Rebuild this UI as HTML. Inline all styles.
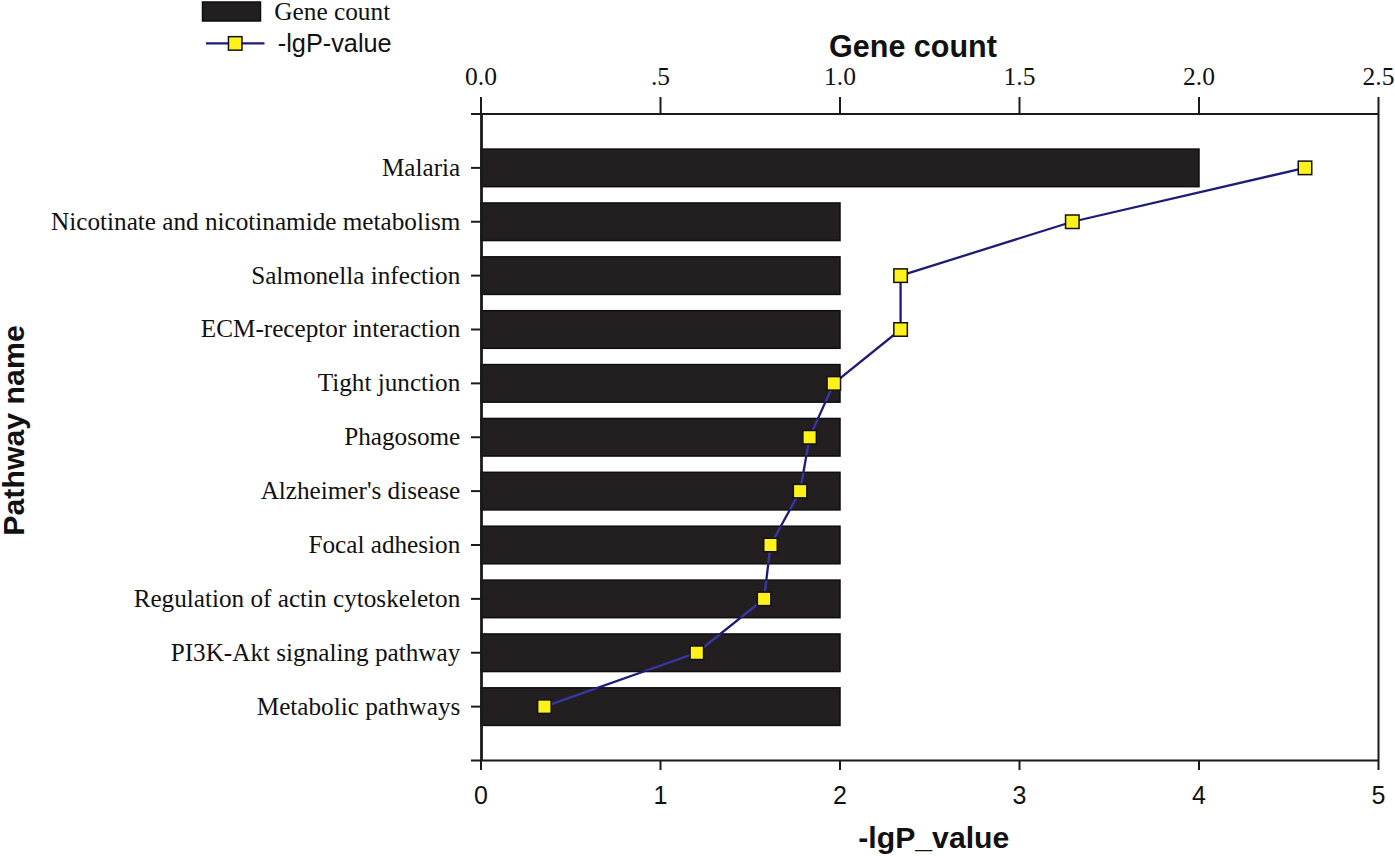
<!DOCTYPE html><html><head><meta charset="utf-8"><style>html,body{margin:0;padding:0;background:#fff;}svg{display:block}</style></head><body>
<svg width="1395" height="856" viewBox="0 0 1395 856">
<rect x="0" y="0" width="1395" height="856" fill="#fff"/>
<rect x="481.0" y="149.07" width="718.00" height="37.6" fill="#231f20" stroke="#0e0e0e" stroke-width="1.5"/>
<rect x="481.0" y="202.95" width="359.00" height="37.6" fill="#231f20" stroke="#0e0e0e" stroke-width="1.5"/>
<rect x="481.0" y="256.82" width="359.00" height="37.6" fill="#231f20" stroke="#0e0e0e" stroke-width="1.5"/>
<rect x="481.0" y="310.70" width="359.00" height="37.6" fill="#231f20" stroke="#0e0e0e" stroke-width="1.5"/>
<rect x="481.0" y="364.57" width="359.00" height="37.6" fill="#231f20" stroke="#0e0e0e" stroke-width="1.5"/>
<rect x="481.0" y="418.45" width="359.00" height="37.6" fill="#231f20" stroke="#0e0e0e" stroke-width="1.5"/>
<rect x="481.0" y="472.32" width="359.00" height="37.6" fill="#231f20" stroke="#0e0e0e" stroke-width="1.5"/>
<rect x="481.0" y="526.20" width="359.00" height="37.6" fill="#231f20" stroke="#0e0e0e" stroke-width="1.5"/>
<rect x="481.0" y="580.08" width="359.00" height="37.6" fill="#231f20" stroke="#0e0e0e" stroke-width="1.5"/>
<rect x="481.0" y="633.95" width="359.00" height="37.6" fill="#231f20" stroke="#0e0e0e" stroke-width="1.5"/>
<rect x="481.0" y="687.83" width="359.00" height="37.6" fill="#231f20" stroke="#0e0e0e" stroke-width="1.5"/>
<line x1="471.0" y1="114.0" x2="1378.5" y2="114.0" stroke="#1a1a1a" stroke-width="2"/>
<line x1="471.0" y1="760.5" x2="1378.5" y2="760.5" stroke="#1a1a1a" stroke-width="2"/>
<line x1="481.5" y1="114.0" x2="481.5" y2="760.5" stroke="#1a1a1a" stroke-width="2.8"/>
<line x1="1378.5" y1="97.0" x2="1378.5" y2="770.0" stroke="#1a1a1a" stroke-width="2"/>
<line x1="471.0" y1="167.88" x2="481.0" y2="167.88" stroke="#1a1a1a" stroke-width="2"/>
<line x1="471.0" y1="221.75" x2="481.0" y2="221.75" stroke="#1a1a1a" stroke-width="2"/>
<line x1="471.0" y1="275.62" x2="481.0" y2="275.62" stroke="#1a1a1a" stroke-width="2"/>
<line x1="471.0" y1="329.50" x2="481.0" y2="329.50" stroke="#1a1a1a" stroke-width="2"/>
<line x1="471.0" y1="383.38" x2="481.0" y2="383.38" stroke="#1a1a1a" stroke-width="2"/>
<line x1="471.0" y1="437.25" x2="481.0" y2="437.25" stroke="#1a1a1a" stroke-width="2"/>
<line x1="471.0" y1="491.12" x2="481.0" y2="491.12" stroke="#1a1a1a" stroke-width="2"/>
<line x1="471.0" y1="545.00" x2="481.0" y2="545.00" stroke="#1a1a1a" stroke-width="2"/>
<line x1="471.0" y1="598.88" x2="481.0" y2="598.88" stroke="#1a1a1a" stroke-width="2"/>
<line x1="471.0" y1="652.75" x2="481.0" y2="652.75" stroke="#1a1a1a" stroke-width="2"/>
<line x1="471.0" y1="706.62" x2="481.0" y2="706.62" stroke="#1a1a1a" stroke-width="2"/>
<line x1="481.00" y1="97.0" x2="481.00" y2="114.0" stroke="#1a1a1a" stroke-width="2"/>
<text x="481.00" y="85.2" font-family="&quot;Liberation Serif&quot;, serif" font-size="25.5" text-anchor="middle" fill="#111">0.0</text>
<line x1="660.50" y1="97.0" x2="660.50" y2="114.0" stroke="#1a1a1a" stroke-width="2"/>
<text x="660.50" y="85.2" font-family="&quot;Liberation Serif&quot;, serif" font-size="25.5" text-anchor="middle" fill="#111">.5</text>
<line x1="840.00" y1="97.0" x2="840.00" y2="114.0" stroke="#1a1a1a" stroke-width="2"/>
<text x="840.00" y="85.2" font-family="&quot;Liberation Serif&quot;, serif" font-size="25.5" text-anchor="middle" fill="#111">1.0</text>
<line x1="1019.50" y1="97.0" x2="1019.50" y2="114.0" stroke="#1a1a1a" stroke-width="2"/>
<text x="1019.50" y="85.2" font-family="&quot;Liberation Serif&quot;, serif" font-size="25.5" text-anchor="middle" fill="#111">1.5</text>
<line x1="1199.00" y1="97.0" x2="1199.00" y2="114.0" stroke="#1a1a1a" stroke-width="2"/>
<text x="1199.00" y="85.2" font-family="&quot;Liberation Serif&quot;, serif" font-size="25.5" text-anchor="middle" fill="#111">2.0</text>
<text x="1378.50" y="85.2" font-family="&quot;Liberation Serif&quot;, serif" font-size="25.5" text-anchor="middle" fill="#111">2.5</text>
<line x1="481.00" y1="760.5" x2="481.00" y2="770.0" stroke="#1a1a1a" stroke-width="2"/>
<text x="481.00" y="804.3" font-family="&quot;Liberation Sans&quot;, sans-serif" font-size="25" text-anchor="middle" fill="#111">0</text>
<line x1="660.50" y1="760.5" x2="660.50" y2="770.0" stroke="#1a1a1a" stroke-width="2"/>
<text x="660.50" y="804.3" font-family="&quot;Liberation Sans&quot;, sans-serif" font-size="25" text-anchor="middle" fill="#111">1</text>
<line x1="840.00" y1="760.5" x2="840.00" y2="770.0" stroke="#1a1a1a" stroke-width="2"/>
<text x="840.00" y="804.3" font-family="&quot;Liberation Sans&quot;, sans-serif" font-size="25" text-anchor="middle" fill="#111">2</text>
<line x1="1019.50" y1="760.5" x2="1019.50" y2="770.0" stroke="#1a1a1a" stroke-width="2"/>
<text x="1019.50" y="804.3" font-family="&quot;Liberation Sans&quot;, sans-serif" font-size="25" text-anchor="middle" fill="#111">3</text>
<line x1="1199.00" y1="760.5" x2="1199.00" y2="770.0" stroke="#1a1a1a" stroke-width="2"/>
<text x="1199.00" y="804.3" font-family="&quot;Liberation Sans&quot;, sans-serif" font-size="25" text-anchor="middle" fill="#111">4</text>
<text x="1378.50" y="804.3" font-family="&quot;Liberation Sans&quot;, sans-serif" font-size="25" text-anchor="middle" fill="#111">5</text>
<text x="460.3" y="175.78" font-family="&quot;Liberation Serif&quot;, serif" font-size="25.2" text-anchor="end" fill="#111">Malaria</text>
<text x="460.3" y="229.65" font-family="&quot;Liberation Serif&quot;, serif" font-size="25.2" text-anchor="end" fill="#111">Nicotinate and nicotinamide metabolism</text>
<text x="460.3" y="283.52" font-family="&quot;Liberation Serif&quot;, serif" font-size="25.2" text-anchor="end" fill="#111">Salmonella infection</text>
<text x="460.3" y="337.40" font-family="&quot;Liberation Serif&quot;, serif" font-size="25.2" text-anchor="end" fill="#111">ECM-receptor interaction</text>
<text x="460.3" y="391.27" font-family="&quot;Liberation Serif&quot;, serif" font-size="25.2" text-anchor="end" fill="#111">Tight junction</text>
<text x="460.3" y="445.15" font-family="&quot;Liberation Serif&quot;, serif" font-size="25.2" text-anchor="end" fill="#111">Phagosome</text>
<text x="460.3" y="499.02" font-family="&quot;Liberation Serif&quot;, serif" font-size="25.2" text-anchor="end" fill="#111">Alzheimer&#39;s disease</text>
<text x="460.3" y="552.90" font-family="&quot;Liberation Serif&quot;, serif" font-size="25.2" text-anchor="end" fill="#111">Focal adhesion</text>
<text x="460.3" y="606.77" font-family="&quot;Liberation Serif&quot;, serif" font-size="25.2" text-anchor="end" fill="#111">Regulation of actin cytoskeleton</text>
<text x="460.3" y="660.65" font-family="&quot;Liberation Serif&quot;, serif" font-size="25.2" text-anchor="end" fill="#111">PI3K-Akt signaling pathway</text>
<text x="460.3" y="714.52" font-family="&quot;Liberation Serif&quot;, serif" font-size="25.2" text-anchor="end" fill="#111">Metabolic pathways</text>
<polyline points="1305.0,167.88 1072.3,221.75 900.6,275.62 900.6,329.50 833.8,383.38 809.6,437.25 800.1,491.12 770.5,545.00 764.1,598.88 696.8,652.75 544.4,706.62" fill="none" stroke="#1e1c76" stroke-width="2.3" stroke-linejoin="round"/>
<clipPath id="bc"><rect x="482.0" y="150.07" width="716.00" height="35.60"/><rect x="482.0" y="203.95" width="357.00" height="35.60"/><rect x="482.0" y="257.82" width="357.00" height="35.60"/><rect x="482.0" y="311.70" width="357.00" height="35.60"/><rect x="482.0" y="365.57" width="357.00" height="35.60"/><rect x="482.0" y="419.45" width="357.00" height="35.60"/><rect x="482.0" y="473.32" width="357.00" height="35.60"/><rect x="482.0" y="527.20" width="357.00" height="35.60"/><rect x="482.0" y="581.08" width="357.00" height="35.60"/><rect x="482.0" y="634.95" width="357.00" height="35.60"/><rect x="482.0" y="688.83" width="357.00" height="35.60"/></clipPath>
<polyline clip-path="url(#bc)" points="1305.0,167.88 1072.3,221.75 900.6,275.62 900.6,329.50 833.8,383.38 809.6,437.25 800.1,491.12 770.5,545.00 764.1,598.88 696.8,652.75 544.4,706.62" fill="none" stroke="#3a389a" stroke-width="2.3" stroke-linejoin="round"/>
<rect x="1298.25" y="161.12" width="13.5" height="13.5" fill="#fff21a" stroke="#111" stroke-width="1.5"/>
<rect x="1065.55" y="215.00" width="13.5" height="13.5" fill="#fff21a" stroke="#111" stroke-width="1.5"/>
<rect x="893.85" y="268.88" width="13.5" height="13.5" fill="#fff21a" stroke="#111" stroke-width="1.5"/>
<rect x="893.85" y="322.75" width="13.5" height="13.5" fill="#fff21a" stroke="#111" stroke-width="1.5"/>
<rect x="827.05" y="376.62" width="13.5" height="13.5" fill="#fff21a" stroke="#111" stroke-width="1.5"/>
<rect x="802.85" y="430.50" width="13.5" height="13.5" fill="#fff21a" stroke="#111" stroke-width="1.5"/>
<rect x="793.35" y="484.38" width="13.5" height="13.5" fill="#fff21a" stroke="#111" stroke-width="1.5"/>
<rect x="763.75" y="538.25" width="13.5" height="13.5" fill="#fff21a" stroke="#111" stroke-width="1.5"/>
<rect x="757.35" y="592.12" width="13.5" height="13.5" fill="#fff21a" stroke="#111" stroke-width="1.5"/>
<rect x="690.05" y="646.00" width="13.5" height="13.5" fill="#fff21a" stroke="#111" stroke-width="1.5"/>
<rect x="537.65" y="699.88" width="13.5" height="13.5" fill="#fff21a" stroke="#111" stroke-width="1.5"/>
<text x="913" y="56.6" font-family="&quot;Liberation Sans&quot;, sans-serif" font-weight="bold" font-size="30.5" text-anchor="middle" fill="#111">Gene count</text>
<text x="933.8" y="848" font-family="&quot;Liberation Sans&quot;, sans-serif" font-weight="bold" font-size="30.2" text-anchor="middle" fill="#111">-lgP_value</text>
<text transform="translate(23.5,430.5) rotate(-90)" font-family="&quot;Liberation Sans&quot;, sans-serif" font-weight="bold" font-size="30.3" text-anchor="middle" fill="#111">Pathway name</text>
<rect x="202.5" y="2" width="58" height="19" fill="#231f20" stroke="#0e0e0e" stroke-width="1.5"/>
<text x="274.3" y="19.8" font-family="&quot;Liberation Serif&quot;, serif" font-size="25.3" fill="#111">Gene count</text>
<line x1="206" y1="43.4" x2="264.5" y2="43.4" stroke="#1e1c76" stroke-width="2.2"/>
<rect x="228.45" y="36.65" width="13.5" height="13.5" fill="#fff21a" stroke="#111" stroke-width="1.5"/>
<text x="277.8" y="51.6" font-family="&quot;Liberation Sans&quot;, sans-serif" font-size="25.3" fill="#111">-lgP-value</text>
</svg></body></html>
